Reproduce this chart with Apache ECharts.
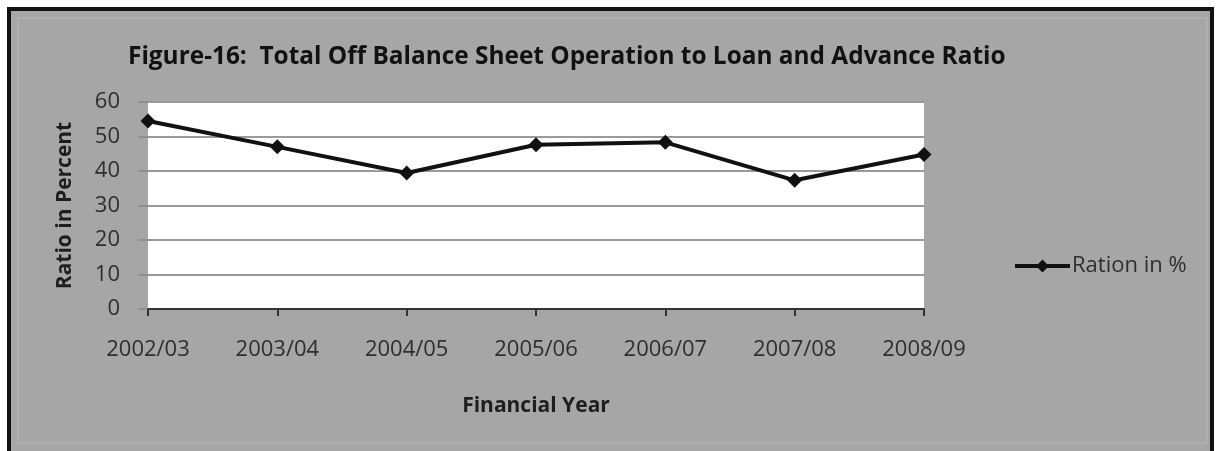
<!DOCTYPE html>
<html>
<head>
<meta charset="utf-8">
<script src="https://cdn.jsdelivr.net/npm/echarts@6/dist/echarts.min.js"></script>
<style>
  html, body { margin: 0; padding: 0; background: #ffffff; }
  #chart { width: 1216px; height: 451px; }
</style>
</head>
<body>
<div id="chart"></div>
<script>
// Financial years on the category axis
const years = ['2002/03', '2003/04', '2004/05', '2005/06', '2006/07', '2007/08', '2008/09'];
// Total off balance sheet operation as a share of loans and advances (%)
const ratioValues = [54.5, 47.0, 39.4, 47.6, 48.3, 37.3, 44.8];
const seriesName = 'Ration in %';
const chartTitle = 'Figure-16:  Total Off Balance Sheet Operation to Loan and Advance Ratio';
const xAxisTitle = 'Financial Year';
const yAxisTitle = 'Ratio in Percent';

const FONT = '"Open Sans", "Liberation Sans", sans-serif';
const chart = echarts.init(document.getElementById('chart'), null, { renderer: 'canvas' });

chart.setOption({
  backgroundColor: '#ffffff',
  animation: false,
  graphic: [
    {
      type: 'rect', z: -20, silent: true,
      shape: { x: 9, y: 9, width: 1203, height: 470 },
      style: { fill: '#a6a6a6', stroke: '#111111', lineWidth: 4 }
    },
    {
      type: 'rect', z: -19, silent: true,
      shape: { x: 18, y: 18, width: 1189, height: 425 },
      style: { fill: 'none', stroke: '#b3b3b3', lineWidth: 1.5 }
    }
  ],
  title: {
    text: chartTitle,
    left: 123, top: 40,
    textStyle: { fontFamily: FONT, fontWeight: 'bold', fontSize: 24.4, color: '#111111' }
  },
  legend: {
    left: 1008, top: 250,
    itemWidth: 55, itemHeight: 16, itemGap: 10,
    data: [{
      name: seriesName,
      lineStyle: { width: 4, color: '#111111' },
      itemStyle: { color: '#111111' }
    }],
    textStyle: { fontFamily: FONT, fontSize: 22, color: '#2e2e2e', padding: [0, 0, 0, -3] }
  },
  grid: {
    left: 148, right: 292, top: 102, bottom: 142,
    show: true, backgroundColor: '#ffffff', borderWidth: 0
  },
  xAxis: {
    type: 'category',
    data: years,
    boundaryGap: false,
    name: xAxisTitle,
    nameLocation: 'middle',
    nameGap: 87,
    nameTextStyle: { fontFamily: FONT, fontWeight: 'bold', fontSize: 21, color: '#1e1e1e' },
    axisLine: { show: true, lineStyle: { color: '#333333', width: 2 } },
    axisTick: { show: true, alignWithLabel: true, length: 7, lineStyle: { color: '#333333', width: 2 } },
    axisLabel: { margin: 30, fontFamily: FONT, fontSize: 22, color: '#2e2e2e' },
    splitLine: { show: false }
  },
  yAxis: {
    type: 'value',
    min: 0, max: 60, interval: 10,
    name: yAxisTitle,
    nameLocation: 'middle',
    nameRotate: 90,
    nameGap: 72,
    nameTextStyle: { fontFamily: FONT, fontWeight: 'bold', fontSize: 21, color: '#1e1e1e' },
    axisLine: { show: false },
    axisTick: { show: true, length: 10, lineStyle: { color: '#8f8f8f', width: 2 } },
    axisLabel: { margin: 28, fontFamily: FONT, fontSize: 22, color: '#2e2e2e' },
    splitLine: { show: true, lineStyle: { color: '#9a9a9a', width: 2 } }
  },
  series: [{
    name: seriesName,
    type: 'line',
    data: ratioValues,
    symbol: 'diamond',
    symbolSize: 15,
    showSymbol: true,
    lineStyle: { color: '#111111', width: 4 },
    itemStyle: { color: '#111111' }
  }]
});
</script>
</body>
</html>
